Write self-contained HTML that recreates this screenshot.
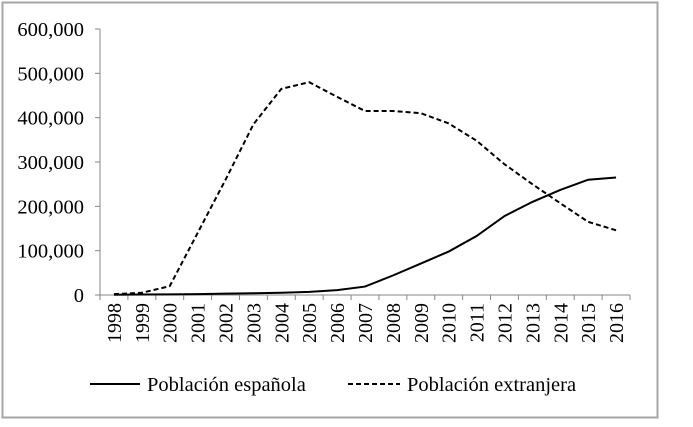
<!DOCTYPE html>
<html><head><meta charset="utf-8"><style>
body{margin:0;background:#fff;width:693px;height:422px;overflow:hidden}
svg{font-family:"Liberation Serif",serif}
</style></head><body>
<svg width="693" height="422">
<rect x="2.5" y="2.5" width="655" height="415" fill="#fff" stroke="#a6a6a6" stroke-width="2"/>
<g id="plot"></g>
</svg>
<script>
const years=["1998","1999","2000","2001","2002","2003","2004","2005","2006","2007","2008","2009","2010","2011","2012","2013","2014","2015","2016"];
const spanish=[500,1000,1500,2000,3000,4000,5000,7000,11000,19000,44000,71000,98000,133000,178000,210000,237000,260000,265000];
const foreign=[2000,5000,20000,140000,260000,385000,465000,480000,447000,415000,415000,410000,387000,348000,295000,250000,207000,165000,146000];
const yTicks=[0,100000,200000,300000,400000,500000,600000];
const NS="http://www.w3.org/2000/svg";
const g=document.getElementById('plot');
const x0=100,x1=630,y0=295,y1=29,yMax=600000;
const band=(x1-x0)/years.length;
const X=i=>x0+band*(i+0.5);
const Y=v=>y0-(v/yMax)*(y0-y1);
function mk(t,a){const e=document.createElementNS(NS,t);for(const k in a)e.setAttribute(k,a[k]);g.appendChild(e);return e;}
let e=mk('line',{x1:x0,y1:y1,x2:x0,y2:y0,stroke:'#868686','stroke-width':1});


e=mk('line',{x1:x0,y1:y0,x2:x1,y2:y0,stroke:'#868686','stroke-width':1});


yTicks.forEach(v=>{
  mk('line',{x1:x0-5,y1:Y(v),x2:x0,y2:Y(v),stroke:'#868686'});
  const t=mk('text',{x:84,y:Y(v)+7,'text-anchor':'end','font-size':20.5});
  t.textContent=v.toLocaleString('en-US');
  
  
});
for(let i=0;i<=years.length;i++){mk('line',{x1:x0+band*i,y1:y0,x2:x0+band*i,y2:y0+5,stroke:'#868686'});}
years.forEach((yr,i)=>{
  const t=mk('text',{x:0,y:0,'text-anchor':'end','font-size':20,transform:`translate(${X(i)+7},${y0+8}) rotate(-90)`});
  t.textContent=yr;
  
  
});
e=mk('polyline',{points:spanish.map((v,i)=>X(i)+','+Y(v)).join(' '),fill:'none',stroke:'#000','stroke-width':2});


e=mk('polyline',{points:foreign.map((v,i)=>X(i)+','+Y(v)).join(' '),fill:'none',stroke:'#000','stroke-width':2,'stroke-dasharray':'5,3'});


e=mk('line',{x1:90,y1:384,x2:140,y2:384,stroke:'#000','stroke-width':2});


e=mk('text',{x:147,y:391,'font-size':20.5});e.textContent='Población española';


e=mk('line',{x1:348,y1:384,x2:400,y2:384,stroke:'#000','stroke-width':2,'stroke-dasharray':'5,3'});


e=mk('text',{x:407,y:391,'font-size':20.5});e.textContent='Población extranjera';


</script>
</body></html>
